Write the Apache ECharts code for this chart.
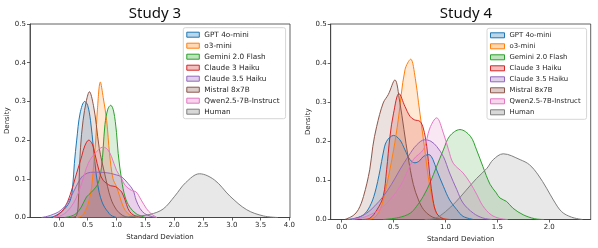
<!DOCTYPE html>
<html>
<head>
<meta charset="utf-8">
<script src="https://cdn.jsdelivr.net/npm/echarts@6/dist/echarts.min.js"></script>
<style>html,body{margin:0;padding:0;background:#fff}#c{width:598px;height:248px}</style>
</head>
<body>
<div id="c"></div>
<script>
const names = ['GPT 4o-mini','o3-mini','Gemini 2.0 Flash','Claude 3 Haiku','Claude 3.5 Haiku','Mistral 8x7B','Qwen2.5-7B-Instruct','Human'];
const colors = ['#1f77b4','#ff7f0e','#2ca02c','#d62728','#9467bd','#8c564b','#e377c2','#7f7f7f'];
const titles = ['Study 3','Study 4'];
const yTicks = [0,0.1,0.2,0.3,0.4,0.5];
const xTicks3 = [0,0.5,1,1.5,2,2.5,3,3.5,4];
const xTicks4 = [0,0.5,1,1.5,2];

// ---- Study 3 (x = standard deviation, y = density) ----
const s3GptX = [-0.25,-0.1,0.0,0.1,0.2,0.24,0.27,0.31,0.37,0.45,0.5,0.55,0.6,0.65,0.7,0.75,0.8,0.85,0.9,1.0];
const s3GptY = [0,0.002,0.01,0.022,0.045,0.08,0.14,0.2,0.27,0.3,0.29,0.25,0.18,0.11,0.065,0.04,0.025,0.015,0.006,0];
const s3O3X = [0.3,0.4,0.45,0.51,0.57,0.61,0.64,0.67,0.72,0.77,0.83,0.88,0.94,1.0,1.06,1.12,1.2,1.3,1.4];
const s3O3Y = [0,0.004,0.015,0.036,0.079,0.148,0.2,0.28,0.35,0.31,0.25,0.165,0.1,0.08,0.053,0.027,0.01,0.003,0];
const s3GemX = [0.1,0.2,0.3,0.39,0.48,0.57,0.68,0.74,0.77,0.8,0.85,0.9,0.95,1.0,1.03,1.09,1.15,1.23,1.34,1.5];
const s3GemY = [0,0.003,0.01,0.027,0.053,0.066,0.088,0.13,0.18,0.24,0.28,0.29,0.275,0.22,0.165,0.096,0.053,0.027,0.01,0];
const s3C3X = [-0.1,0.0,0.1,0.2,0.3,0.4,0.45,0.52,0.58,0.625,0.71,0.77,0.83,0.9,0.98,1.05,1.09,1.15,1.2,1.26,1.35,1.45];
const s3C3Y = [0,0.008,0.025,0.06,0.11,0.16,0.185,0.2,0.19,0.165,0.114,0.096,0.088,0.082,0.08,0.072,0.066,0.045,0.023,0.01,0.003,0];
const s3C35X = [-0.3,-0.2,-0.1,0.0,0.1,0.2,0.3,0.4,0.5,0.6,0.7,0.8,0.9,1.0,1.09,1.2,1.29,1.34,1.41,1.49,1.6,1.7];
const s3C35Y = [0,0.003,0.008,0.015,0.028,0.05,0.08,0.105,0.115,0.117,0.117,0.116,0.114,0.11,0.105,0.088,0.07,0.045,0.023,0.01,0.003,0];
const s3MisX = [0.2,0.28,0.31,0.335,0.352,0.376,0.42,0.48,0.53,0.6,0.65,0.7,0.8,0.9,1.0,1.1,1.2];
const s3MisY = [0,0.002,0.006,0.027,0.096,0.18,0.25,0.303,0.325,0.29,0.24,0.18,0.11,0.05,0.02,0.006,0];
const s3QwX = [-0.1,0.0,0.1,0.2,0.3,0.4,0.51,0.625,0.77,0.85,0.915,1.0,1.09,1.15,1.26,1.34,1.43,1.52,1.6,1.7];
const s3QwY = [0,0.003,0.01,0.025,0.05,0.09,0.14,0.165,0.182,0.175,0.157,0.122,0.1,0.083,0.07,0.066,0.045,0.023,0.01,0];
const s3HumX = [1.0,1.3,1.58,1.81,2.01,2.2,2.44,2.7,2.97,3.26,3.55,3.8];
const s3HumY = [0,0.003,0.008,0.022,0.055,0.09,0.113,0.097,0.055,0.02,0.004,0];

// ---- Study 4 ----
const s4GptX = [0.05,0.11,0.21,0.27,0.32,0.37,0.40,0.433,0.5,0.56,0.61,0.658,0.706,0.75,0.786,0.84,0.88,0.915,0.98,1.04,1.11,1.17,1.27];
const s4GptY = [0,0.002,0.012,0.033,0.068,0.127,0.17,0.2,0.215,0.204,0.178,0.153,0.145,0.15,0.161,0.166,0.153,0.127,0.085,0.05,0.025,0.008,0];
const s4O3X = [0.2,0.3,0.37,0.43,0.5,0.545,0.61,0.665,0.71,0.74,0.8,0.85,0.915,0.98,1.05];
const s4O3Y = [0,0.003,0.025,0.084,0.178,0.255,0.383,0.41,0.36,0.3,0.18,0.084,0.016,0.002,0];
const s4GemX = [0.4,0.55,0.66,0.72,0.786,0.85,0.915,0.98,1.04,1.14,1.24,1.30,1.36,1.43,1.49,1.525,1.59,1.65,1.75,1.86,1.95];
const s4GemY = [0,0.005,0.016,0.033,0.059,0.093,0.136,0.178,0.213,0.23,0.213,0.178,0.136,0.09,0.068,0.055,0.046,0.029,0.012,0.002,0];
const s4C3X = [0.2,0.27,0.34,0.40,0.433,0.465,0.5,0.552,0.61,0.658,0.7,0.754,0.786,0.82,0.85,0.88,0.915,0.98,1.05];
const s4C3Y = [0,0.003,0.025,0.059,0.127,0.212,0.272,0.322,0.289,0.264,0.255,0.251,0.234,0.187,0.11,0.05,0.016,0.002,0];
const s4C35X = [0.05,0.14,0.24,0.32,0.40,0.48,0.56,0.65,0.72,0.8,0.86,0.915,0.98,1.04,1.11,1.17,1.27,1.36,1.45];
const s4C35Y = [0,0.003,0.016,0.035,0.059,0.09,0.127,0.165,0.19,0.204,0.2,0.187,0.161,0.119,0.076,0.042,0.016,0.004,0];
const s4MisX = [0.03,0.11,0.16,0.21,0.27,0.30,0.337,0.40,0.45,0.513,0.56,0.6,0.64,0.69,0.74,0.79,0.85,0.91,1.0];
const s4MisY = [0,0.01,0.025,0.059,0.127,0.187,0.238,0.298,0.32,0.357,0.3,0.23,0.16,0.09,0.05,0.025,0.01,0.003,0];
const s4QwX = [0.1,0.24,0.40,0.56,0.69,0.79,0.85,0.915,0.98,1.03,1.075,1.17,1.24,1.30,1.36,1.44,1.52,1.6];
const s4QwY = [0,0.008,0.033,0.084,0.153,0.18,0.234,0.26,0.221,0.178,0.144,0.119,0.093,0.065,0.035,0.012,0.003,0];
const s4HumX = [0.8,0.9,1.0,1.1,1.2,1.3,1.4,1.46,1.557,1.72,1.81,1.894,1.975,2.04,2.12,2.215,2.32];
const s4HumY = [0,0.003,0.02,0.045,0.075,0.105,0.131,0.153,0.168,0.153,0.14,0.114,0.08,0.05,0.02,0.006,0];

const study3 = [[s3GptX,s3GptY],[s3O3X,s3O3Y],[s3GemX,s3GemY],[s3C3X,s3C3Y],[s3C35X,s3C35Y],[s3MisX,s3MisY],[s3QwX,s3QwY],[s3HumX,s3HumY]];
const study4 = [[s4GptX,s4GptY],[s4O3X,s4O3Y],[s4GemX,s4GemY],[s4C3X,s4C3Y],[s4C35X,s4C35Y],[s4MisX,s4MisY],[s4QwX,s4QwY],[s4HumX,s4HumY]];

function rgba(hex,a){const n=parseInt(hex.slice(1),16);return 'rgba('+(n>>16)+','+((n>>8)&255)+','+(n&255)+','+a+')';}
const TXT = '#262626', AX = '#3a3a3a', FONT = 'DejaVu Sans';

function mkSeries(study, gi){
  return study.map((p,i)=>({
    name: names[i], type:'line', xAxisIndex: gi, yAxisIndex: gi,
    data: p[0].map((x,k)=>[x,p[1][k]]),
    smooth: 0.35, symbol:'none', silent:true,
    lineStyle:{color:colors[i], width:1},
    itemStyle:{color:colors[i]},
    areaStyle:{color:rgba(colors[i],0.25), origin:'start'},
    z: 2
  }));
}
function mkLegend(left, top, fs, iw, gap){
  return {
    orient:'vertical', left:left, top:top, icon:'rect',
    itemWidth: iw, itemHeight: 5, itemGap: gap,
    padding:[3,6,3,3], backgroundColor:'#fff', borderColor:'#d6d6d6', borderWidth:1, borderRadius:2,
    textStyle:{fontFamily:FONT, fontSize:fs, color:TXT, lineHeight: 8},
    data: names.map((n,i)=>({name:n, itemStyle:{color:rgba(colors[i],0.3), borderColor:colors[i], borderWidth:1}})),
    selectedMode:false
  };
}
function mkX(gi,min,max,ticks){
  return {type:'value', gridIndex:gi, min:min, max:max,
    name:'Standard Deviation', nameLocation:'middle', nameGap:14,
    nameTextStyle:{fontFamily:FONT, fontSize:7, color:TXT},
    axisLine:{show:true, onZero:false, lineStyle:{color:AX, width:0.8}},
    axisTick:{show:true, customValues:ticks, length:3, lineStyle:{color:AX, width:0.8}},
    axisLabel:{customValues:ticks, fontFamily:FONT, fontSize:7, color:TXT, margin:4, formatter:v=>v.toFixed(1)},
    splitLine:{show:false}};
}
function mkY(gi){
  return {type:'value', gridIndex:gi, min:0, max:0.5, interval:0.1,
    name:'Density', nameLocation:'middle', nameGap:18, nameRotate:90,
    nameTextStyle:{fontFamily:FONT, fontSize:7, color:TXT},
    axisLine:{show:true, onZero:false, lineStyle:{color:AX, width:0.8}},
    axisTick:{show:true, length:3, lineStyle:{color:AX, width:0.8}},
    axisLabel:{fontFamily:FONT, fontSize:7, color:TXT, margin:4, formatter:v=>v.toFixed(1)},
    splitLine:{show:false}};
}

const chart = echarts.init(document.getElementById('c'), null, {renderer:'canvas'});
chart.setOption({
  animation:false,
  backgroundColor:'#fff',
  title:[
    {text:titles[0], left:150, top:1, textAlign:'center', textStyle:{fontFamily:'Noto Sans', fontSize:15, fontWeight:'normal', color:'#111'}},
    {text:titles[1], left:461, top:1, textAlign:'center', textStyle:{fontFamily:'Noto Sans', fontSize:15, fontWeight:'normal', color:'#111'}}
  ],
  grid:[
    {left:30, top:24, width:260, height:193.5, show:true, borderColor:AX, borderWidth:0.8, backgroundColor:'transparent'},
    {left:330.7, top:24, width:260, height:195.5, show:true, borderColor:AX, borderWidth:0.8, backgroundColor:'transparent'}
  ],
  xAxis:[mkX(0,-0.5,4.01,xTicks3), mkX(1,-0.106,2.4,xTicks4)],
  yAxis:[mkY(0), mkY(1)],
  legend:[mkLegend(183.3,27.7,7.3,12.5,3), mkLegend(487,28.3,6.9,14,3)],
  series: mkSeries(study3,0).concat(mkSeries(study4,1))
});
</script>
</body>
</html>
